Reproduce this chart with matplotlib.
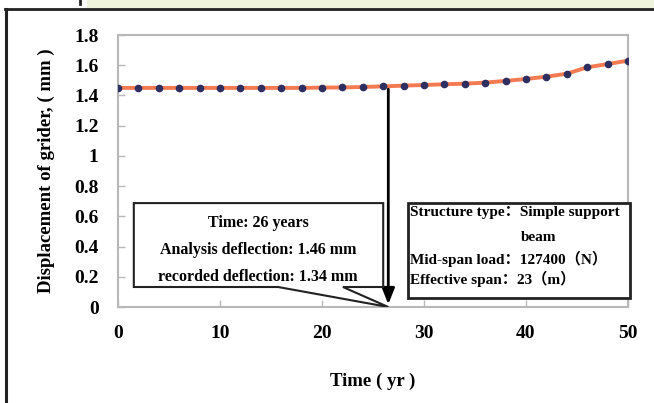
import matplotlib.pyplot as plt
from matplotlib.patches import Polygon, Rectangle
from matplotlib.lines import Line2D
from matplotlib.ticker import FuncFormatter

# Data
years = [0, 2, 4, 6, 8, 10, 12, 14, 16, 18, 20, 22, 24,
         26, 28, 30, 32, 34, 36, 38, 40, 42, 44, 46, 48, 50]
deflection = [1.45, 1.45, 1.45, 1.45, 1.45, 1.45, 1.45, 1.45, 1.45, 1.45, 1.452, 1.453, 1.456,
              1.46, 1.465, 1.469, 1.474, 1.478, 1.485, 1.496, 1.509, 1.524, 1.544, 1.586, 1.608, 1.63]
mark_year = 26.5
mark_value = 1.46

callout_lines = ['Time: 26 years', 'Analysis deflection: 1.46 mm', 'recorded deflection: 1.34 mm']
info_lines = ['Structure type\uff1aSimple support', 'beam', 'Mid-span load\uff1a127400\uff08N\uff09',
              'Effective span\uff1a23\uff08m\uff09']

SERIF = ['Liberation Serif', 'Noto Sans CJK SC', 'DejaVu Serif']
plt.rcParams['font.family'] = SERIF
plt.rcParams['font.weight'] = 'bold'
plt.rcParams['axes.labelweight'] = 'bold'

fig = plt.figure(figsize=(6.54, 4.03), dpi=100)

# page decoration: pale band and black frame
fig.patches.append(Rectangle((87 / 654, 1 - 8 / 403), 1, 8 / 403, transform=fig.transFigure,
                             facecolor='#eef3dc', edgecolor='none'))
fig.lines.append(Line2D([5 / 654, 1], [1 - 9 / 403] * 2, transform=fig.transFigure, color='#222222', lw=2))
fig.lines.append(Line2D([6 / 654] * 2, [0, 1 - 9 / 403], transform=fig.transFigure, color='#222222', lw=2.2))
fig.lines.append(Line2D([80 / 654] * 2, [1 - 4 / 403, 1], transform=fig.transFigure, color='#222222', lw=2))

ax = fig.add_axes([118 / 654, 1 - 307 / 403, 510 / 654, 272 / 403])
ax.plot(years, deflection, color='#f47a52', lw=2.8, marker='o', markersize=4.5,
        markerfacecolor='#2e2e60', markeredgecolor='#2e2e60', zorder=3)
ax.set_xlim(0, 50)
ax.set_ylim(0, 1.8)
ax.set_xticks([0, 10, 20, 30, 40, 50])
ax.set_yticks([0, 0.2, 0.4, 0.6, 0.8, 1, 1.2, 1.4, 1.6, 1.8])
ax.yaxis.set_major_formatter(FuncFormatter(lambda v, p: '%g' % round(v, 1)))
for s in ax.spines.values():
    s.set_color('#b8b8b8')
    s.set_linewidth(1.5)
ax.tick_params(direction='in', length=5, color='#b8b8b8', width=1, labelsize=14)
ax.tick_params(axis='y', pad=14)
ax.tick_params(axis='x', pad=13)
ax.set_xlabel('Time ( yr )', fontsize=13.5, labelpad=22)
ax.set_ylabel('Displacement of grider, ( mm )', fontsize=13.5, labelpad=14)

# vertical arrow from the analysed point down to the axis
ax.annotate('', xy=(mark_year, 0), xytext=(mark_year, mark_value),
            arrowprops=dict(arrowstyle='-|>,head_width=0.38,head_length=0.95', color='black', lw=2),
            zorder=4)

# speech-bubble callout
tip = ax.transAxes.inverted().transform(ax.transData.transform((mark_year, 0)))
bubble = Polygon([(0.031, 0.382), (0.52, 0.382), (0.52, 0.0735), (0.441, 0.0735), tuple(tip),
                  (0.314, 0.0735), (0.031, 0.0735)], closed=True, transform=ax.transAxes,
                 facecolor='white', edgecolor='#222222', lw=1.5, zorder=5)
ax.add_patch(bubble)
for i, t in enumerate(callout_lines):
    ax.text(0.275, 0.31 - i * 0.099, t, transform=ax.transAxes, ha='center', va='center',
            fontsize=11.5, zorder=6)

# information box
info = Rectangle((0.569, 0.033), 0.435, 0.35, transform=ax.transAxes, facecolor='white',
                 edgecolor='#222222', lw=2, zorder=5, clip_on=False)
ax.add_patch(info)
ys = [0.346, 0.255, 0.176, 0.103]
xs = [0.572, 0.79, 0.572, 0.572]
for t, x, y in zip(info_lines, xs, ys):
    ax.text(x, y, t, transform=ax.transAxes, ha='left', va='center', fontsize=11, zorder=6)

fig.savefig('out.png', dpi=100)
